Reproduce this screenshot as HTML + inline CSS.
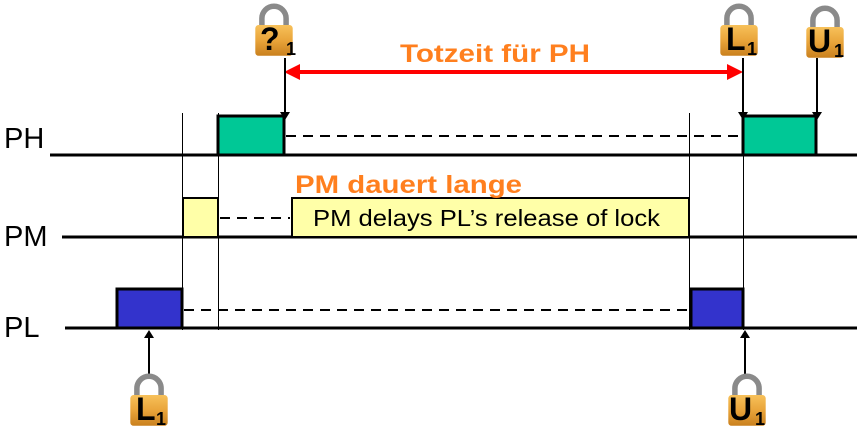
<!DOCTYPE html>
<html><head><meta charset="utf-8"><style>
html,body{margin:0;padding:0;background:#fff;width:857px;height:436px;overflow:hidden}
svg text{font-family:"Liberation Sans",sans-serif}
</style></head><body>
<svg width="857" height="436" viewBox="0 0 857 436" xmlns="http://www.w3.org/2000/svg">
<defs>
<linearGradient id="lg" x1="0" y1="0" x2="0" y2="1">
<stop offset="0" stop-color="#f7c15a"/><stop offset="0.5" stop-color="#e9a43a"/><stop offset="1" stop-color="#c9801e"/>
</linearGradient>
<symbol id="lock" viewBox="0 0 40 50">
<path d="M9 22 V14 A11 11 0 0 1 31 14 V22" fill="none" stroke="#8a8a8a" stroke-width="5"/>
<rect x="3" y="20" width="34" height="28" rx="3" fill="url(#lg)"/>
</symbol>
</defs>
<g stroke="#000" stroke-width="3" fill="none">
<line x1="50" y1="155" x2="857" y2="155"/>
<line x1="62" y1="237" x2="857" y2="237"/>
<line x1="65" y1="328" x2="857" y2="328"/>
</g>
<g stroke="#000" stroke-width="1">
<line x1="182.5" y1="113" x2="182.5" y2="330"/>
<line x1="218.5" y1="113" x2="218.5" y2="330"/>
<line x1="689.5" y1="113" x2="689.5" y2="330"/>
<line x1="743.5" y1="62" x2="743.5" y2="330"/>
</g>
<g stroke="#000" stroke-width="2" stroke-dasharray="10,7">
<line x1="286" y1="136" x2="741" y2="136"/>
<line x1="220" y1="218" x2="290" y2="218"/>
<line x1="184" y1="310" x2="689" y2="310"/>
</g>
<rect x="218" y="116" width="66" height="39" fill="#00c896" stroke="#000" stroke-width="3"/>
<rect x="743" y="116" width="73" height="39" fill="#00c896" stroke="#000" stroke-width="3"/>
<rect x="183" y="198" width="35" height="39" fill="#ffffa8" stroke="#000" stroke-width="2"/>
<rect x="292" y="198" width="397" height="39" fill="#ffffa8" stroke="#000" stroke-width="2"/>
<text x="313" y="226" font-size="23" textLength="347" lengthAdjust="spacingAndGlyphs">PM delays PL’s release of lock</text>
<rect x="117" y="289" width="65" height="39" fill="#3333cc" stroke="#000" stroke-width="3"/>
<rect x="691" y="289" width="52" height="39" fill="#3333cc" stroke="#000" stroke-width="3"/>
<text x="4" y="148" font-size="29">PH</text>
<text x="4" y="246" font-size="29">PM</text>
<text x="4" y="337" font-size="29">PL</text>
<text x="295" y="193" font-size="25" font-weight="bold" fill="#ff7f1e" textLength="227" lengthAdjust="spacingAndGlyphs">PM dauert lange</text>
<text x="400" y="62" font-size="25" font-weight="bold" fill="#ff7f1e" textLength="190" lengthAdjust="spacingAndGlyphs">Totzeit für PH</text>
<line x1="295" y1="72" x2="732" y2="72" stroke="#f00" stroke-width="4"/>
<path d="M284 72 L300 64 L300 80 Z" fill="#f00"/>
<path d="M743 72 L727 64 L727 80 Z" fill="#f00"/>
<g stroke="#000" stroke-width="2">
<line x1="285" y1="58" x2="285" y2="114"/>
<line x1="743" y1="58" x2="743" y2="114"/>
<line x1="817" y1="58" x2="817" y2="114"/>
<line x1="149" y1="377" x2="149" y2="334"/>
<line x1="745" y1="377" x2="745" y2="334"/>
</g>
<g fill="#000">
<path d="M280 112 L290 112 L285 120 Z"/>
<path d="M738 112 L748 112 L743 120 Z"/>
<path d="M812 112 L822 112 L817 120 Z"/>
<path d="M144 338 L154 338 L149 330 Z"/>
<path d="M740 338 L750 338 L745 330 Z"/>
</g>
<g font-weight="bold" fill="#000">
<use href="#lock" x="252" y="3" width="44" height="55"/>
<text x="260" y="50" font-size="32">?</text><text x="286" y="55" font-size="18">1</text>
<use href="#lock" x="717" y="3" width="44" height="55"/>
<text x="726" y="50" font-size="32">L</text><text x="747" y="55" font-size="18">1</text>
<use href="#lock" x="803" y="5" width="44" height="55"/>
<text x="808" y="52" font-size="32">U</text><text x="834" y="57" font-size="18">1</text>
<use href="#lock" x="127" y="373" width="44" height="55"/>
<text x="136" y="420" font-size="32">L</text><text x="156" y="425" font-size="18">1</text>
<use href="#lock" x="725" y="373" width="44" height="55"/>
<text x="729" y="420" font-size="32">U</text><text x="755" y="425" font-size="18">1</text>
</g>
</svg>
</body></html>
